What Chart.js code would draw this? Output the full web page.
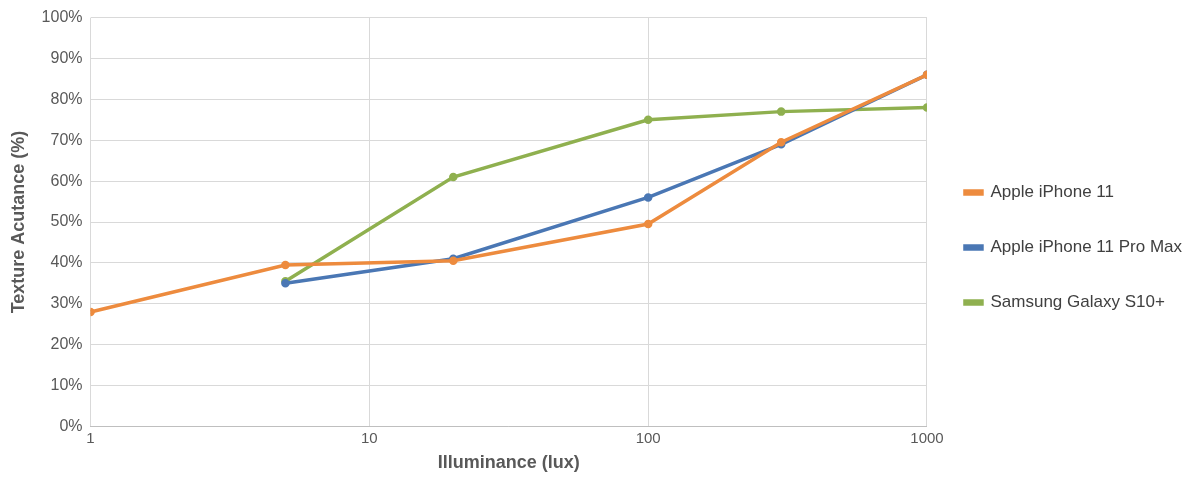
<!DOCTYPE html>
<html>
<head>
<meta charset="utf-8">
<script src="https://cdn.jsdelivr.net/npm/chart.js@4/dist/chart.umd.min.js"></script>
<style>
  body { margin: 0; background: #fff; }
  #wrap { width: 1200px; height: 484px; }
</style>
</head>
<body>
<div id="wrap"><canvas id="c"></canvas></div>
<script>
const luxTicks = [1, 10, 100, 1000];
const iphone11 = [[1, 28], [5, 39.5], [20, 40.5], [100, 49.5], [300, 69.5], [1000, 86]];
const iphone11ProMax = [[5, 35], [20, 41], [100, 56], [300, 69], [1000, 86]];
const galaxyS10 = [[5, 35.5], [20, 61], [100, 75], [300, 77], [1000, 78]];

const toPts = arr => arr.map(p => ({ x: p[0], y: p[1] }));

function series(label, data, color) {
  return {
    label, data: toPts(data),
    borderColor: color, backgroundColor: color,
    borderWidth: 3.5, pointRadius: 2.5, pointHoverRadius: 2.5,
    tension: 0
  };
}

Chart.defaults.font.family = '"Liberation Sans", Arial, sans-serif';
Chart.defaults.color = '#595959';

new Chart(document.getElementById('c'), {
  type: 'line',
  data: {
    datasets: [
      series('Apple iPhone 11', iphone11, '#ed8b3e'),
      series('Apple iPhone 11 Pro Max', iphone11ProMax, '#4a77b4'),
      series('Samsung Galaxy S10+', galaxyS10, '#8fb04f')
    ]
  },
  options: {
    responsive: true,
    maintainAspectRatio: false,
    animation: false,
    layout: { padding: { top: 17, right: 8, bottom: 6, left: 4 } },
    plugins: {
      tooltip: { enabled: false },
      legend: {
        position: 'right',
        labels: {
          boxWidth: 17, boxHeight: 3, padding: 38,
          font: { size: 17 }, color: '#404040'
        }
      }
    },
    scales: {
      x: {
        type: 'logarithmic', min: 1, max: 1000,
        afterBuildTicks: axis => { axis.ticks = luxTicks.map(v => ({ value: v })); },
        ticks: { font: { size: 15 }, callback: v => String(v) },
        grid: { color: '#d9d9d9', drawTicks: false },
        border: { color: '#bfbfbf' },
        title: { display: true, text: 'Illuminance (lux)', font: { size: 18, weight: 'bold' }, padding: { top: 2 } }
      },
      y: {
        min: 0, max: 100,
        ticks: { stepSize: 10, font: { size: 16 }, callback: v => v + '%', padding: 8 },
        grid: { color: '#d9d9d9', drawTicks: false },
        border: { display: false },
        title: { display: true, text: 'Texture Acutance (%)', font: { size: 18, weight: 'bold' } }
      }
    }
  }
});
</script>
</body>
</html>
